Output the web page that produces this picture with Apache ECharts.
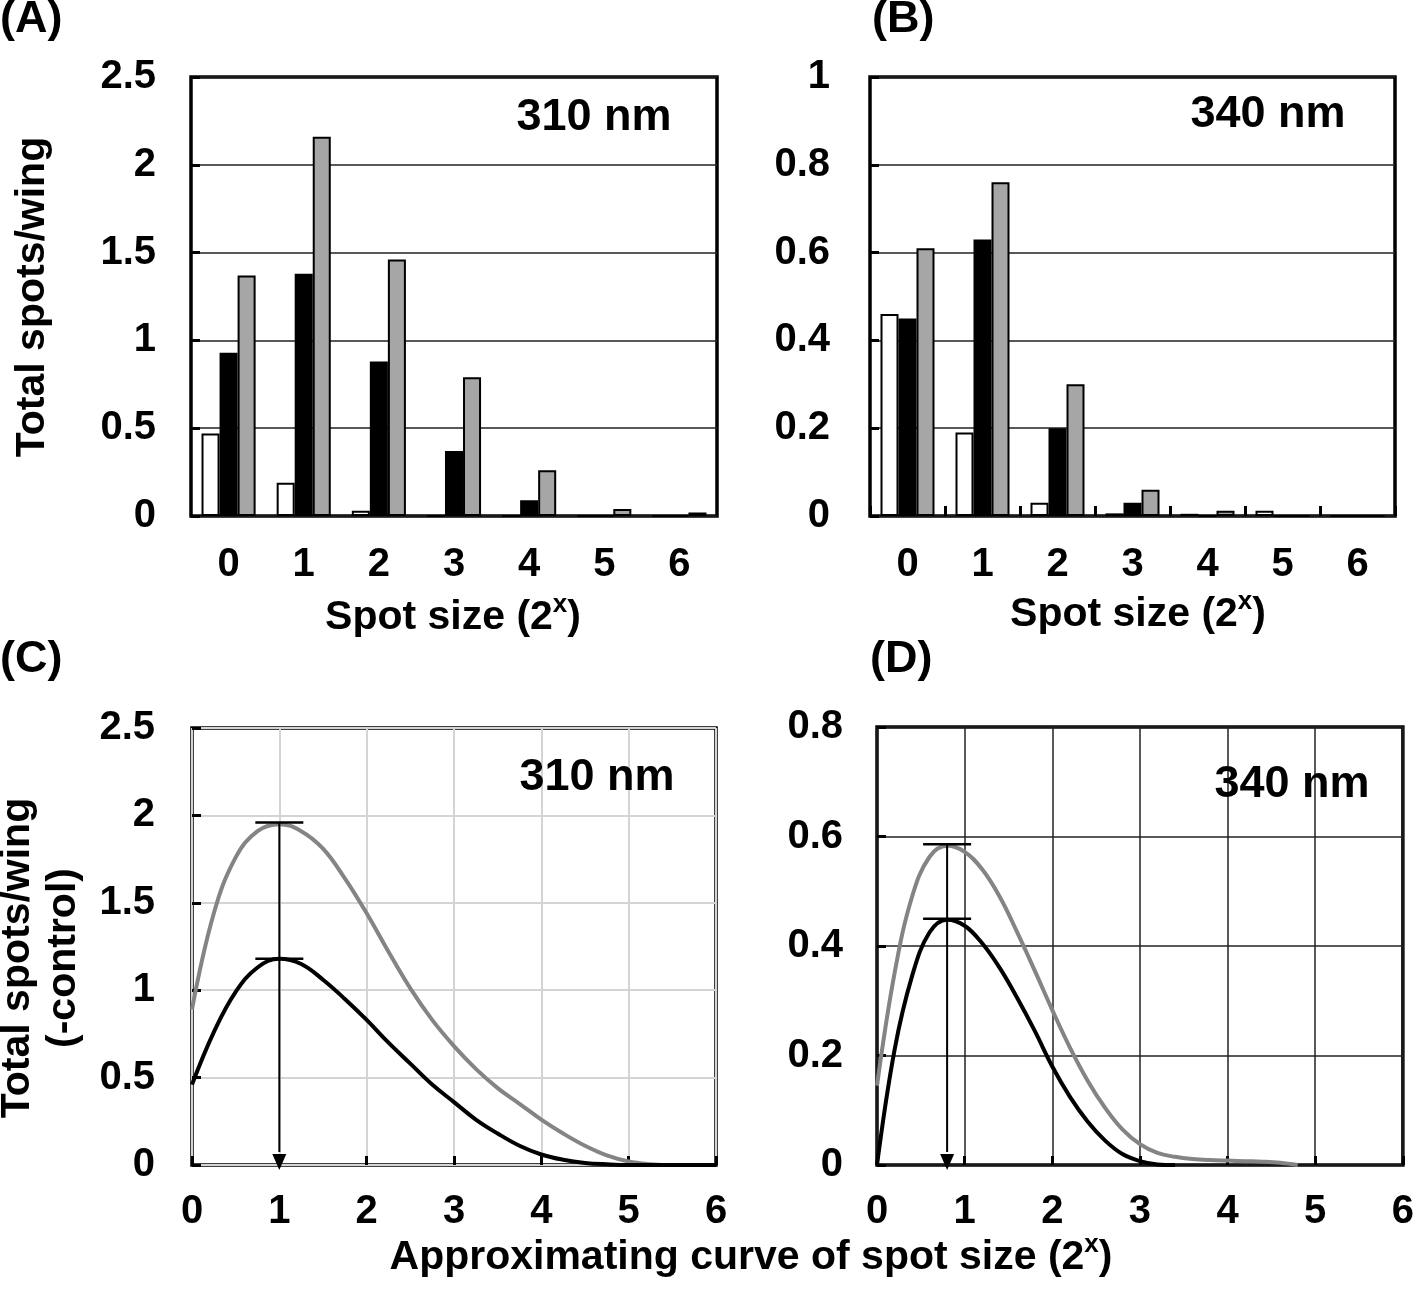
<!DOCTYPE html>
<html><head><meta charset="utf-8">
<script src="https://cdn.jsdelivr.net/npm/echarts@6/dist/echarts.min.js"></script>
<style>html,body{margin:0;padding:0;background:#fff}#c{width:1417px;height:1289px}</style>
</head><body><div id="c"></div><script>
// ---------- data ----------
const spotSizes = ['0', '1', '2', '3', '4', '5', '6'];
// (A) 310 nm
const a310White = [0.47, 0.19, 0.03, 0, 0, 0, 0];
const a310Black = [0.93, 1.38, 0.88, 0.37, 0.09, 0, 0];
const a310Gray  = [1.37, 2.16, 1.46, 0.79, 0.26, 0.04, 0.02];
// (B) 340 nm
const b340White = [0.46, 0.19, 0.03, 0.006, 0.005, 0.012, 0];
const b340Black = [0.45, 0.63, 0.20, 0.03, 0, 0, 0];
const b340Gray  = [0.61, 0.76, 0.30, 0.06, 0.012, 0, 0];
// (C) approximating curves 310 nm
const cX     = [0, 0.25, 0.5, 0.75, 1, 1.25, 1.5, 1.75, 2, 2.25, 2.5, 2.75, 3, 3.25, 3.5, 3.75, 4, 4.25, 4.5, 4.75, 5, 5.25, 5.5, 5.75, 6];
const cBlack = [0.46, 0.76, 0.99, 1.13, 1.18, 1.15, 1.06, 0.95, 0.83, 0.70, 0.58, 0.46, 0.36, 0.26, 0.18, 0.11, 0.06, 0.03, 0.012, 0.004, 0, 0, 0, 0, 0];
const cGray  = [0.89, 1.44, 1.76, 1.91, 1.95, 1.91, 1.81, 1.64, 1.44, 1.22, 1.01, 0.83, 0.68, 0.55, 0.44, 0.35, 0.26, 0.18, 0.11, 0.055, 0.02, 0.005, 0, 0, 0];
const cPeak  = [1, 1.96, 1.18]; // x, gray peak, black peak
// (D) approximating curves 340 nm
const dXBlack = [0, 0.2, 0.4, 0.6, 0.8, 1.0, 1.2, 1.4, 1.6, 1.8, 2.0, 2.2, 2.4, 2.6, 2.8, 3.0, 3.2, 3.4];
const dBlack  = [0, 0.21, 0.345, 0.425, 0.448, 0.437, 0.405, 0.36, 0.305, 0.245, 0.18, 0.125, 0.08, 0.045, 0.02, 0.007, 0.001, 0];
const dXGray  = [0, 0.2, 0.4, 0.6, 0.8, 1.0, 1.2, 1.4, 1.6, 1.8, 2.0, 2.2, 2.4, 2.6, 2.8, 3.0, 3.2, 3.4, 3.6, 3.8, 4.0, 4.2, 4.4, 4.6, 4.8];
const dGray   = [0.145, 0.35, 0.49, 0.563, 0.583, 0.572, 0.54, 0.49, 0.425, 0.355, 0.283, 0.215, 0.155, 0.105, 0.065, 0.038, 0.022, 0.015, 0.011, 0.009, 0.008, 0.007, 0.006, 0.004, 0];
const dPeak   = [0.8, 0.586, 0.45];

// ---------- styles ----------
const FF = '"Liberation Sans", Arial, sans-serif';
const TICK_FS = 40;
const TITLE_FS = 41;
const GRAYBAR = '#a6a6a6';
const GRAYLINE = '#848484';

const zip = (xs, ys) => xs.map((x, i) => [x, ys[i]]);

const gridBase = { show: true, borderColor: '#000', borderWidth: 3.5, backgroundColor: 'transparent', containLabel: false };
const labelStyle = (margin) => ({ margin, fontSize: TICK_FS, fontWeight: 'bold', fontFamily: FF, color: '#000' });

function catX(gi, ticks) {
  return {
    type: 'category', gridIndex: gi, data: spotSizes, boundaryGap: true,
    axisLine: { show: false },
    axisTick: { show: ticks, inside: true, length: 10, lineStyle: { color: '#000', width: 3 } },
    axisLabel: labelStyle(29),
    splitLine: { show: false }
  };
}
function valY(gi, max, interval, margin, gridColor, gridWidth) {
  return {
    type: 'value', gridIndex: gi, min: 0, max, interval,
    axisLine: { show: false },
    axisTick: { show: true, inside: true, length: 9, lineStyle: { color: '#000', width: 3 } },
    axisLabel: labelStyle(margin),
    splitLine: { show: true, lineStyle: { color: gridColor, width: gridWidth } }
  };
}
function valX(gi, margin, gridColor, gridWidth) {
  return {
    type: 'value', gridIndex: gi, min: 0, max: 6, interval: 1,
    axisLine: { show: false },
    axisTick: { show: true, inside: true, length: 9, lineStyle: { color: '#000', width: 3 } },
    axisLabel: labelStyle(margin),
    splitLine: { show: true, lineStyle: { color: gridColor, width: gridWidth } }
  };
}
function bar(xi, data, fill, border) {
  return {
    type: 'bar', xAxisIndex: xi, yAxisIndex: xi, data,
    barGap: '0%', barCategoryGap: '28%',
    itemStyle: { color: fill, borderColor: '#000', borderWidth: border },
    emphasis: { disabled: true }, animation: false
  };
}
function curve(xi, pts, color) {
  return {
    type: 'line', xAxisIndex: xi, yAxisIndex: xi, data: pts,
    smooth: 0.4, showSymbol: false, symbol: 'none',
    lineStyle: { color, width: 4 }, emphasis: { disabled: true }, animation: false, z: 3
  };
}
function errArrow(xi, peak) {
  return {
    type: 'custom', xAxisIndex: xi, yAxisIndex: xi, data: [peak], z: 5, animation: false,
    renderItem: function (params, api) {
      const x = api.value(0), hi = api.value(1), lo = api.value(2);
      const pT = api.coord([x, hi]), pL = api.coord([x, lo]), pB = api.coord([x, 0]);
      const cap = 24, ah = 15, aw = 7;
      return {
        type: 'group', children: [
          { type: 'line', shape: { x1: pT[0], y1: pT[1], x2: pB[0], y2: pB[1] - ah + 2 }, style: { stroke: '#000', lineWidth: 2 } },
          { type: 'polygon', shape: { points: [[pB[0] - aw, pB[1] - ah + 4], [pB[0] + aw, pB[1] - ah + 4], [pB[0], pB[1] + 5]] }, style: { fill: '#000' } },
          { type: 'line', shape: { x1: pT[0] - cap, y1: pT[1], x2: pT[0] + cap, y2: pT[1] }, style: { stroke: '#000', lineWidth: 2.5 } },
          { type: 'line', shape: { x1: pL[0] - cap, y1: pL[1], x2: pL[0] + cap, y2: pL[1] }, style: { stroke: '#000', lineWidth: 2.5 } }
        ]
      };
    }
  };
}
function txt(text, x, y, fs, opts) {
  opts = opts || {};
  return {
    type: 'text', x, y, rotation: opts.rotation || 0, z: 10,
    style: {
      text, fontSize: fs, fontWeight: 'bold', fontFamily: FF, fill: '#000',
      align: opts.align || 'center', verticalAlign: 'middle', lineHeight: opts.lineHeight || fs,
      rich: opts.rich
    }
  };
}
const supRich = {
  t: { fontSize: TITLE_FS, fontWeight: 'bold', fontFamily: FF, fill: '#000', verticalAlign: 'bottom', lineHeight: 46 },
  s: { fontSize: 26, fontWeight: 'bold', fontFamily: FF, fill: '#000', verticalAlign: 'top', lineHeight: 46 }
};

const chart = echarts.init(document.getElementById('c'), null, { renderer: 'canvas' });
chart.setOption({
  animation: false,
  backgroundColor: '#fff',
  grid: [
    Object.assign({ left: 191, top: 77, width: 526, height: 439 }, gridBase),
    Object.assign({ left: 870, top: 77, width: 525, height: 439 }, gridBase),
    Object.assign({ left: 192, top: 728, width: 524, height: 437 }, gridBase),
    Object.assign({ left: 877, top: 727, width: 529, height: 438 }, gridBase)
  ],
  xAxis: [
    catX(0, false),
    catX(1, true),
    valX(2, 27, '#d4d4d4', 2),
    valX(3, 27, '#222', 1.5)
  ],
  yAxis: [
    valY(0, 2.5, 0.5, 35, '#222', 1.5),
    valY(1, 1, 0.2, 40, '#222', 1.5),
    valY(2, 2.5, 0.5, 37, '#d4d4d4', 2),
    valY(3, 0.8, 0.2, 34, '#222', 1.5)
  ],
  series: [
    bar(0, a310White, '#fff', 2), bar(0, a310Black, '#000', 2), bar(0, a310Gray, GRAYBAR, 2),
    bar(1, b340White, '#fff', 2), bar(1, b340Black, '#000', 2), bar(1, b340Gray, GRAYBAR, 2),
    curve(2, zip(cX, cGray), GRAYLINE), curve(2, zip(cX, cBlack), '#000'), errArrow(2, cPeak),
    curve(3, zip(dXGray, dGray), GRAYLINE), curve(3, zip(dXBlack, dBlack), '#000'), errArrow(3, dPeak)
  ],
  graphic: [
    txt('(A)', 0, 20, 45, { align: 'left' }),
    txt('(B)', 872, 20, 45, { align: 'left' }),
    txt('(C)', 0, 660, 45, { align: 'left' }),
    txt('(D)', 870, 660, 45, { align: 'left' }),
    txt('310 nm', 594, 118, 45),
    txt('340 nm', 1268, 115, 45),
    txt('310 nm', 597, 778, 45),
    txt('340 nm', 1292, 785, 45),
    txt('Total spots/wing', 33, 297, TITLE_FS, { rotation: Math.PI / 2 }),
    txt('Total spots/wing\n(-control)', 41, 958, TITLE_FS, { rotation: Math.PI / 2, lineHeight: 46 }),
    txt('{t|Spot size (2}{s|x}{t|)}', 453, 615, TITLE_FS, { rich: supRich }),
    txt('{t|Spot size (2}{s|x}{t|)}', 1138, 612, TITLE_FS, { rich: supRich }),
    txt('{t|Approximating curve of spot size (2}{s|x}{t|)}', 751, 1255, TITLE_FS, { rich: supRich })
  ]
});
</script></body></html>
